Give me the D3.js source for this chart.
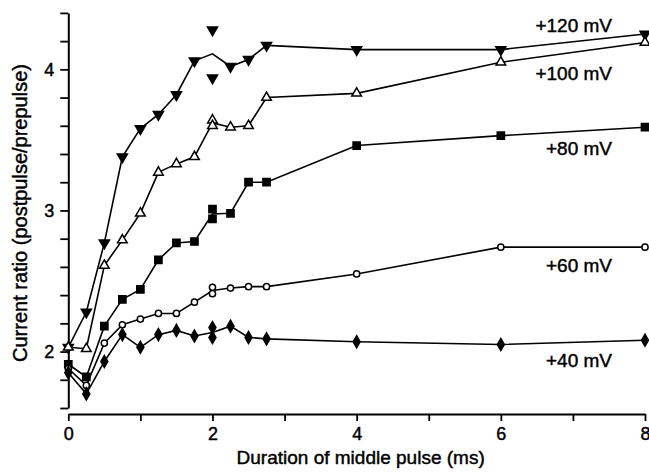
<!DOCTYPE html>
<html><head><meta charset="utf-8">
<script src="https://cdn.jsdelivr.net/npm/d3@7"></script>
<style>body{margin:0;background:#fff}svg{display:block}text{font-family:"Liberation Sans",Arial,sans-serif;fill:#000;stroke:#000;stroke-width:0.45px}</style>
</head><body><svg id="c" width="649" height="475"></svg>
<script>
const durations = [0,0.25,0.5,0.75,1,1.25,1.5,1.75,2,2.25,2.5,2.75,4,6,8];
const v120 = [2.03,2.28,2.77,3.38,3.58,3.68,3.82,4.06,[4.28,3.94],4.02,4.07,4.17,4.14,4.14,4.25];
const v100 = [2.03,2.02,2.61,2.79,2.98,3.27,3.33,3.38,[3.64,3.60],3.59,3.60,3.80,3.83,4.05,4.19];
const v80  = [1.91,1.82,2.18,2.37,2.44,2.65,2.77,2.78,[3.01,2.94],2.98,3.20,3.20,3.46,3.53,3.59];
const v60  = [1.88,1.76,2.06,2.19,2.23,2.27,2.27,2.35,[2.455,2.41],2.45,2.46,2.46,2.55,2.74,2.74];
const v40  = [1.85,1.70,1.93,2.12,2.03,2.12,2.15,2.11,[2.17,2.10],2.18,2.10,2.09,2.07,2.05,2.08];
const seriesLabels = ["+120 mV","+100 mV","+80 mV","+60 mV","+40 mV"];
const xTicks = [0,1,2,3,4,5,6,7,8];
const xTickLabels = ["0","","2","","4","","6","","8"];
const yTicks = [1.6,1.8,2,2.2,2.4,2.6,2.8,3,3.2,3.4,3.6,3.8,4,4.2,4.4];
const yTickLabels = ["","","2","","","","","3","","","","","4","",""];
const xTitle = "Duration of middle pulse (ms)";
const yTitle = "Current ratio (postpulse/prepulse)";

const svg = d3.select("#c");
const x = d3.scaleLinear().domain([0,8]).range([68.3,645]);
const y = d3.scaleLinear().domain([1.6,4.4]).range([408,12.9]);

// axes
const xa = svg.append("g").attr("transform","translate(0,414)")
  .call(d3.axisBottom(x).tickValues(xTicks).tickSize(7).tickSizeOuter(0)
    .tickFormat((d,i)=>xTickLabels[i]));
const ya = svg.append("g").attr("transform","translate(68.3,0)")
  .call(d3.axisLeft(y).tickValues(yTicks).tickSize(8).tickSizeOuter(0)
    .tickFormat((d,i)=>yTickLabels[i]));
[xa,ya].forEach(g=>{
  g.select(".domain").attr("stroke","#000").attr("stroke-width",2);
  g.selectAll(".tick line").attr("stroke","#000").attr("stroke-width",1.8);
  g.selectAll(".tick text").style("font-size","18px").style("font-family","Liberation Sans, Arial, sans-serif").attr("fill","#000");
});
xa.selectAll(".tick text").attr("dy","0.95em").attr("y",9);
ya.selectAll(".tick text").attr("x",-14);

svg.append("text").attr("x",(x(0)+x(8))/2+4).attr("y",464).attr("text-anchor","middle")
  .style("font-size","19px").text(xTitle);
svg.append("text").attr("transform","translate(27,213) rotate(-90)").attr("text-anchor","middle")
  .style("font-size","20px").text(yTitle);

const series = [
  {vals:v120, sym:d3.symbolTriangle, size:44, rot:180, fill:"#000", lab:[612,31.5]},
  {vals:v100, sym:d3.symbolTriangle, size:40, rot:0, fill:"#fff", lab:[612,80]},
  {vals:v80, sym:d3.symbolSquare, size:52, rot:0, fill:"#000", lab:[612,155]},
  {vals:v60, sym:d3.symbolCircle, size:30, rot:0, fill:"#fff", lab:[612,271.5]},
  {vals:v40, sym:d3.symbolDiamond, size:42, rot:0, fill:"#000", lab:[612,366.5]}
];
const line = d3.line().x(d=>x(d[0])).y(d=>y(d[1]));
series.forEach((s,si)=>{
  const pts = durations.map((d,i)=>[d, Array.isArray(s.vals[i]) ? d3.mean(s.vals[i]) : s.vals[i]]);
  svg.append("path").attr("d",line(pts)).attr("fill","none").attr("stroke","#000").attr("stroke-width",1.6);
  const marks = [];
  durations.forEach((d,i)=>{
    const v = s.vals[i];
    (Array.isArray(v)?v:[v]).forEach(vv=>marks.push([d,vv]));
  });
  svg.append("g").selectAll("path").data(marks).join("path")
    .attr("d",d3.symbol().type(s.sym).size(s.size))
    .attr("transform",d=>`translate(${x(d[0])},${y(d[1])}) rotate(${s.rot})`)
    .attr("fill",s.fill).attr("stroke","#000").attr("stroke-width",1.5);
  svg.append("text").attr("x",s.lab[0]).attr("y",s.lab[1]).attr("text-anchor","end")
    .style("font-size","19px").text(seriesLabels[si]);
});
</script></body></html>
